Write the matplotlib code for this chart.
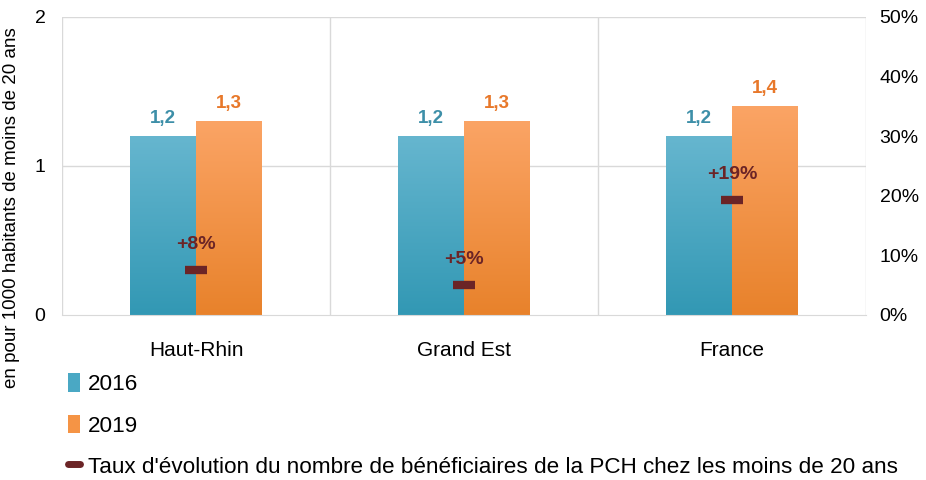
import numpy as np
import matplotlib.pyplot as plt
from matplotlib.lines import Line2D
from matplotlib.patches import Patch
from matplotlib.colors import LinearSegmentedColormap

categories = ["Haut-Rhin", "Grand Est", "France"]
v2016 = [1.2, 1.2, 1.2]
v2019 = [1.3, 1.3, 1.4]
evol = [7.6, 5.0, 19.3]  # %
evol_labels = ["+8%", "+5%", "+19%"]

blue_top, blue_bot = "#66B6CF", "#3298B4"
orange_top, orange_bot = "#FBA465", "#E8822B"
blue_txt, orange_txt, dark_red = "#3D8FA8", "#E8782A", "#6B2426"

plt.rcParams['font.family'] = ['Liberation Sans', 'DejaVu Sans']

fig = plt.figure(figsize=(9.26, 4.8), dpi=100)
ax = fig.add_axes([0.067, 0.344, 0.868, 0.621])
ax2 = ax.twinx()

x = np.arange(len(categories))
w = 0.246


def gradient_bars(ax, xs, vals, c_top, c_bot):
    bars = ax.bar(xs, vals, w, color="none", edgecolor="none", zorder=2)
    grad = np.linspace(0, 1, 256).reshape(-1, 1)
    cmap = LinearSegmentedColormap.from_list("g", [c_bot, c_top])
    for b in bars:
        x0, y0 = b.get_x(), b.get_y()
        im = ax.imshow(grad, cmap=cmap, aspect="auto", origin="lower",
                       extent=[x0, x0 + b.get_width(), y0, y0 + b.get_height()],
                       zorder=2)
        im.set_clip_path(b)
    return bars


gradient_bars(ax, x - w / 2, v2016, blue_top, blue_bot)
gradient_bars(ax, x + w / 2, v2019, orange_top, orange_bot)

for i in range(len(categories)):
    ax.text(x[i] - w / 2, v2016[i] + 0.06, f"{v2016[i]:.1f}".replace(".", ","),
            ha="center", va="bottom", color=blue_txt, fontsize=13.5, fontweight="bold")
    ax.text(x[i] + w / 2, v2019[i] + 0.06, f"{v2019[i]:.1f}".replace(".", ","),
            ha="center", va="bottom", color=orange_txt, fontsize=13.5, fontweight="bold")

ax.set_xlim(-0.5, 2.5)
ax.set_ylim(0, 2)
ax.set_yticks([0, 1, 2])
ax.set_yticklabels(["0", "1", "2"])
ax.set_xticks(x)
ax.set_xticklabels(categories, fontsize=15)
ax.tick_params(axis="y", length=0, labelsize=14, pad=12)
ax.tick_params(axis="x", length=0, pad=19)
for xv in [-0.5, 0.5, 1.5, 2.5]:
    ax.axvline(xv, color="#D9D9D9", lw=1, zorder=0)
for yv in [1, 2]:
    ax.axhline(yv, color="#D9D9D9", lw=1, zorder=0)
for s in ax.spines.values():
    s.set_visible(False)
ax.spines["bottom"].set_visible(True)
ax.spines["bottom"].set_color("#D9D9D9")
ax.set_ylabel("en pour 1000 habitants de moins de 20 ans", fontsize=13.5)
ax.yaxis.set_label_coords(-0.052, 0.36)

ax2.set_ylim(0, 50)
ax2.set_yticks(range(0, 51, 10))
ax2.set_yticklabels([f"{t}%" for t in range(0, 51, 10)])
ax2.tick_params(length=0, labelsize=14, pad=10)
for s in ax2.spines.values():
    s.set_visible(False)
ax2.plot(x, evol, linestyle="none", marker="_", ms=16, mew=6, color=dark_red,
         zorder=4)
for i in range(len(categories)):
    ax2.text(x[i], evol[i] + 2.8, evol_labels[i], ha="center", va="bottom",
             color=dark_red, fontsize=14, fontweight="bold")

handles = [Patch(facecolor="#4AA8C4", edgecolor="none"),
           Patch(facecolor="#F59445", edgecolor="none"),
           Line2D([0], [0], color=dark_red, lw=5, solid_capstyle="round")]
labels = ["2016", "2019",
          "Taux d'évolution du nombre de bénéficiaires de la PCH chez les moins de 20 ans"]
fig.legend(handles, labels, loc="upper left", bbox_to_anchor=(0.056, 0.255),
           frameon=False, fontsize=16.2, labelspacing=0.85, handlelength=0.55,
           handleheight=0.9, handletextpad=0.35, borderpad=0.2)

fig.savefig("out.png", dpi=100)
